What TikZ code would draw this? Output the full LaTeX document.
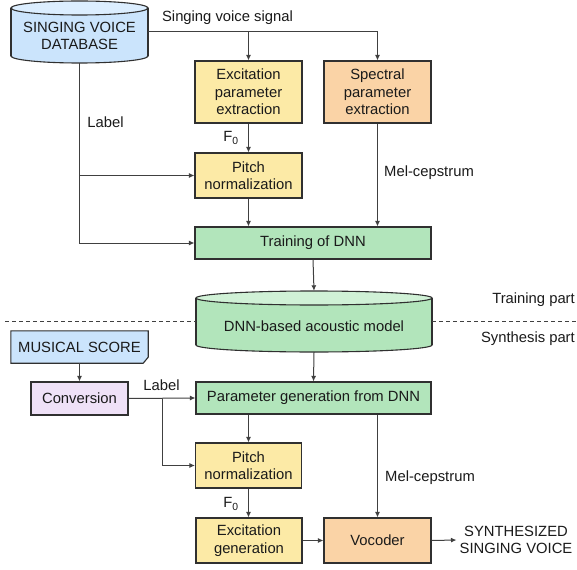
\documentclass[tikz,border=0pt]{standalone}
\usepackage{fontspec}
\setmainfont{Liberation Sans}
\usetikzlibrary{arrows.meta}
\definecolor{txt}{HTML}{1A1A1A}
\definecolor{bordc}{HTML}{303030}
\definecolor{linec}{HTML}{404040}
\definecolor{bluebody}{HTML}{CBE4FC}
\definecolor{bluetop}{HTML}{DCEEFF}
\definecolor{yel}{HTML}{FCEAA6}
\definecolor{ora}{HTML}{FAD3A6}
\definecolor{grn}{HTML}{B2E5BB}
\definecolor{grntop}{HTML}{D0F1D6}
\definecolor{pur}{HTML}{EFE1F7}
\begin{document}
\begin{tikzpicture}[x=1pt,y=-1pt,
  every node/.style={font=\fontsize{14.8}{17.5}\selectfont, text=txt},
  blk/.style={draw=bordc, line width=1.1pt, align=center, inner sep=0pt},
  ghost/.style={inner sep=0pt},
  cylline/.style={draw=bordc, line width=1.1pt},
  conn/.style={draw=linec, line width=1pt},
  arr/.style={conn, -{Latex[length=5.5pt,width=5pt]}},
  dsh/.style={draw=linec, line width=0.9pt, dash pattern=on 4pt off 3pt},
  lbl/.style={inner sep=0pt}]
\useasboundingbox[fill=white] (0,0) rectangle (577,569);

% ---- database cylinder
\fill[bluebody] (11,8) rectangle (148,56);
\draw[cylline, fill=bluebody] (79.5,56) ellipse (68.5pt and 7pt);
\fill[bluebody] (11,8) rectangle (148,56);
\draw[cylline] (11,8) -- (11,56) (148,8) -- (148,56);
\draw[cylline, fill=bluetop] (79.5,8) ellipse (68.5pt and 7pt);
\node[ghost, minimum width=137pt, minimum height=62pt] (db) at (79.5,32) {};
\node[align=center, inner sep=0pt] (dbtext) at (79.5,36) {SINGING VOICE\\DATABASE};

% ---- DNN cylinder
\fill[grn] (196,298) rectangle (432,345);
\draw[cylline, fill=grn] (314,345) ellipse (118pt and 7pt);
\fill[grn] (196,298) rectangle (432,345);
\draw[cylline] (196,298) -- (196,345) (432,298) -- (432,345);
\draw[cylline, fill=grntop] (314,298) ellipse (118pt and 7pt);
\node[ghost, minimum width=236pt, minimum height=61pt] (dnn) at (314,321.5) {};
\node[inner sep=0pt] (dnntext) at (314,326) {DNN-based acoustic model};

% ---- boxes
\node[blk, fill=yel, minimum width=107pt, minimum height=62pt] (exc) at (248.5,92) {Excitation\\parameter\\extraction};
\node[blk, fill=ora, minimum width=107pt, minimum height=62pt] (spec) at (377.5,92) {Spectral\\parameter\\extraction};
\node[blk, fill=yel, minimum width=107pt, minimum height=45pt] (pitchA) at (248.5,175.5) {Pitch\\normalization};
\node[blk, fill=grn, minimum width=236pt, minimum height=32pt] (train) at (313,243) {Training of DNN};

\node[ghost, minimum width=137pt, minimum height=32pt] (ms) at (79.5,347) {};
\draw[cylline, fill=bluebody] (ms.north west) -- (ms.north east) -- ([yshift=6pt]ms.south east) -- ([xshift=-5pt]ms.south east) -- (ms.south west) -- cycle;
\node[inner sep=0pt] (mstext) at (79.5,347) {MUSICAL SCORE};

\node[blk, fill=pur, minimum width=97pt, minimum height=33pt] (conv) at (79.5,398.5) {Conversion};
\node[blk, fill=grn, minimum width=235pt, minimum height=32pt] (param) at (313.5,398) {Parameter generation from DNN};
\node[blk, fill=yel, minimum width=106pt, minimum height=45pt] (pitchB) at (248.5,465.5) {Pitch\\normalization};
\node[blk, fill=yel, minimum width=106pt, minimum height=45pt] (excg) at (249,540.5) {Excitation\\generation};
\node[blk, fill=ora, minimum width=107pt, minimum height=45pt] (voc) at (377.5,540.5) {Vocoder};
\node[align=center, inner sep=3pt] (synth) at (516,540) {SYNTHESIZED\\SINGING VOICE};

% ---- labels
\node[lbl] at (227.5,18) {Singing voice signal};
\node[lbl] at (105.5,122) {Label};
\node[lbl] at (231,138) {F\textsubscript{0}};
\node[lbl, anchor=west] at (384,173) {Mel-cepstrum};
\node[lbl, anchor=east] at (575,300) {Training part};
\node[lbl, anchor=east] at (575,339) {Synthesis part};
\node[lbl] at (161.5,385) {Label};
\node[lbl] at (231,504) {F\textsubscript{0}};
\node[lbl, anchor=west] at (385,478) {Mel-cepstrum};

% ---- connectors (training)
\draw[arr] (db.east) -| (spec.north);
\draw[arr] (exc.north |- db.east) -- (exc.north);
\draw[arr] (db.south) |- (train.west);
\draw[arr] (db.south |- pitchA.west) -- (pitchA.west);
\draw[arr] (exc.south) -- (pitchA.north);
\draw[arr] (pitchA.south) -- (pitchA.south |- train.north);
\draw[arr] (spec.south) -- (spec.south |- train.north);
\draw[arr] (train.south) -- (dnn.north);

% ---- dashed divider
\coordinate (dl) at (5,321.5);
\coordinate (dr) at (577,321.5);
\draw[dsh] (dl) -- (dnn.west);
\draw[dsh] (dnn.east) -- (dr);

% ---- connectors (synthesis)
\draw[arr] (dnn.south) -- (param.north);
\draw[arr] (ms.south) -- (conv.north);
\draw[arr] (conv.east) -- (param.west);
\coordinate (br) at (162,398.5);
\draw[arr] (br) |- (pitchB.west);
\draw[arr] (pitchB.north |- param.south) -- (pitchB.north);
\draw[arr] (pitchB.south) -- (pitchB.south |- excg.north);
\draw[arr] (spec.south |- param.south) -- (spec.south |- voc.north);
\draw[arr] (excg.east) -- (voc.west);
\draw[arr] (voc.east) -- (synth.west);
\end{tikzpicture}
\end{document}
